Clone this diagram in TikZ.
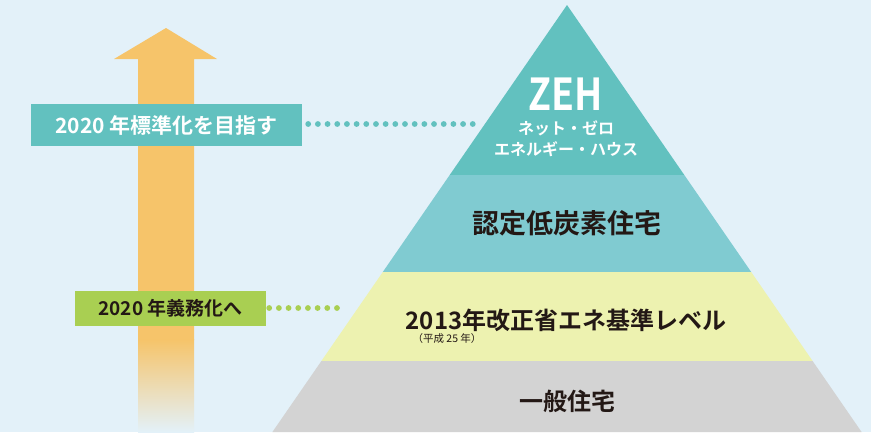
\documentclass[tikz,border=0pt]{standalone}
\usepackage{fontspec}
\setmainfont{Noto Sans CJK JP}[BoldFont={Noto Sans CJK JP Bold}]
\definecolor{bgc}{HTML}{E3F1F9}
\definecolor{tealA}{HTML}{62C1BF}
\definecolor{tealB}{HTML}{80CBD1}
\definecolor{yelc}{HTML}{EDF2B0}
\definecolor{grayc}{HTML}{D3D3D3}
\definecolor{arrc}{HTML}{F6C46A}
\definecolor{grnc}{HTML}{A9CF52}
\definecolor{darkc}{HTML}{231815}
\tikzset{
  tiertext/.style={font=\bfseries\fontsize{24}{28}\selectfont, text=darkc, inner sep=0pt},
  labelbox/.style={rectangle, inner sep=0pt, font=\bfseries},
  dotline/.style={line width=5.8pt, line cap=round, dash pattern=on 0pt off 9.68pt},
}
\begin{document}
\begin{tikzpicture}[x=1pt,y=-1pt]
\useasboundingbox (0,0) rectangle (871,432);
\fill[bgc] (0,0) rectangle (871,432);
% arrow
\fill[arrc] (166,28) -- (217,59) -- (194,59) -- (194,340) -- (138,340) -- (138,59) -- (114,59) -- cycle;
\shade[top color=arrc, bottom color=bgc] (138,339.5) rectangle (194,432);
% pyramid tiers
\fill[tealA] (567,5) -- (684.3,175) -- (449.7,175) -- cycle;
\fill[tealB] (449.7,175) -- (684.3,175) -- (751.2,272) -- (382.8,272) -- cycle;
\fill[yelc] (382.8,272) -- (751.2,272) -- (812.6,361) -- (321.4,361) -- cycle;
\fill[grayc] (321.4,361) -- (812.6,361) -- (861.6,432) -- (272.4,432) -- cycle;
% tier texts
\node[inner sep=0pt, text=white, xscale=0.85, font=\bfseries\fontsize{44}{46}\selectfont] (zeh) at (566,94) {ZEH};
\node[inner sep=0pt, text=white, font=\bfseries\fontsize{16}{18}\selectfont] (net) at (566,128) {ネット・ゼロ};
\node[inner sep=0pt, text=white, font=\bfseries\fontsize{16}{18}\selectfont] (ene) at (566,149) {エネルギー・ハウス};
\node[tiertext, font=\bfseries\fontsize{27}{30}\selectfont] (nintei) at (567,223) {認定低炭素住宅};
\node[tiertext] (std) at (566,320) {2013年改正省エネ基準レベル};
\node[inner sep=0pt, text=darkc, font=\fontsize{10.5}{12}\selectfont] (heisei) at (447,339) {（平成 25 年）};
\node[tiertext] (ippan) at (567,401) {一般住宅};
% label boxes
\node[labelbox, fill=tealA, text=white, minimum width=271pt, minimum height=42pt,
      font=\bfseries\fontsize{21}{24}\selectfont] (boxA) at (166.5,125) {2020 年標準化を目指す};
\node[labelbox, fill=grnc, text=darkc, minimum width=191pt, minimum height=35pt,
      font=\bfseries\fontsize{19}{22}\selectfont] (boxB) at (170.5,308.5) {2020 年義務化へ};
% dotted connectors
\coordinate (zehdot) at (474,124);
\coordinate (stddot) at (337.5,308);
\draw[dotline, tealA] ([xshift=6pt,yshift=1pt]boxA.east) -- (zehdot);
\draw[dotline, grnc] ([xshift=3pt,yshift=0.5pt]boxB.east) -- (stddot);
\end{tikzpicture}
\end{document}
